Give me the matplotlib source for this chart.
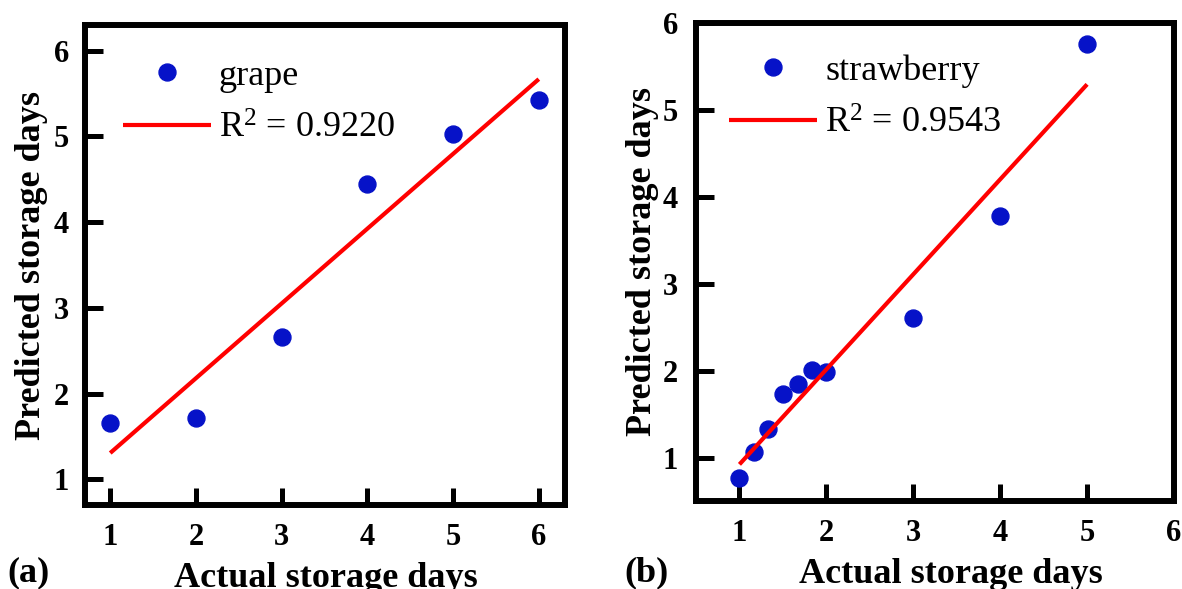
import numpy as np
import matplotlib
matplotlib.use("Agg")
import matplotlib.pyplot as plt

plt.rcParams['font.family'] = ['Liberation Serif', 'DejaVu Serif']
plt.rcParams['mathtext.fontset'] = 'custom'
plt.rcParams['mathtext.rm'] = 'Liberation Serif'
plt.rcParams['mathtext.it'] = 'Liberation Serif:italic'
plt.rcParams['mathtext.bf'] = 'Liberation Serif:bold'

# ---- data ----
grape_actual = [1, 2, 3, 4, 5, 6]
grape_pred = [1.66, 1.71, 2.665, 4.44, 5.03, 5.42]
grape_r2 = "0.9220"

straw_actual = [1, 1.17, 1.33, 1.5, 1.67, 1.83, 2, 3, 4, 5]
straw_pred = [0.76, 1.06, 1.33, 1.73, 1.85, 2.01, 1.99, 2.61, 3.78, 5.76]
straw_r2 = "0.9543"

ticks = [1, 2, 3, 4, 5, 6]
xlabel = "Actual storage days"
ylabel = "Predicted storage days"

W, H = 1182, 589
fig = plt.figure(figsize=(W / 100, H / 100), dpi=100)

blue = '#0612c8'
red = '#ff0000'


def px_axes(l, t, r, b):
    return fig.add_axes([l / W, 1 - b / H, (r - l) / W, (b - t) / H])


def style(ax, xlim, ylim, ypad, xlab_x, ylab_x):
    ax.set_xlim(*xlim)
    ax.set_ylim(*ylim)
    ax.set_xticks(ticks)
    ax.set_yticks(ticks)
    for s in ax.spines.values():
        s.set_linewidth(4.3)
        s.set_color('black')
    ax.tick_params(axis='both', direction='in', top=False, right=False,
                   width=3.6, color='black', labelsize=22)
    ax.tick_params(axis='y', length=13, pad=ypad)
    ax.tick_params(axis='x', length=12, pad=13)
    for lab in ax.get_xticklabels() + ax.get_yticklabels():
        lab.set_fontweight('bold')
    ax.set_xlabel(xlabel, fontsize=26, fontweight='bold')
    ax.set_ylabel(ylabel, fontsize=26, fontweight='bold')
    ax.xaxis.set_label_coords(xlab_x, -0.119)
    ax.yaxis.set_label_coords(ylab_x, 0.5)


def panel(ax, x, y, name, r2, legx, legy):
    x = np.asarray(x, float)
    y = np.asarray(y, float)
    ax.plot(x, y, linestyle='none', marker='o', markersize=12.2,
            color=blue, label=name, zorder=3)
    k, b = np.polyfit(x, y, 1)
    xs = np.array([x.min(), x.max()])
    ax.plot(xs, k * xs + b, color=red, lw=3, label="R$^{2}$ = " + r2,
            zorder=4, solid_capstyle='butt')
    ax.legend(loc='upper left', bbox_to_anchor=(legx, legy), frameon=False,
              fontsize=26, borderpad=0, borderaxespad=0, handlelength=2.44,
              handletextpad=0.22, labelspacing=0.55)


ax1 = px_axes(84.5, 25, 564.5, 505)
panel(ax1, grape_actual, grape_pred, "grape", grape_r2, 0.08, 0.928)
style(ax1, (0.7, 6.3), (0.7, 6.3), 11, 0.502, -0.076)

ax2 = px_axes(696, 23, 1174, 501)
panel(ax2, straw_actual, straw_pred, "strawberry", straw_r2, 0.069, 0.935)
style(ax2, (0.5, 6.0), (0.5, 6.0), 13, 0.534, -0.077)

fig.text(7 / W, 1 - 581 / H, "(a)", fontsize=26, fontweight='bold',
         ha='left', va='baseline')
fig.text(624 / W, 1 - 581 / H, "(b)", fontsize=26, fontweight='bold',
         ha='left', va='baseline')

fig.savefig("out.png", dpi=100)
